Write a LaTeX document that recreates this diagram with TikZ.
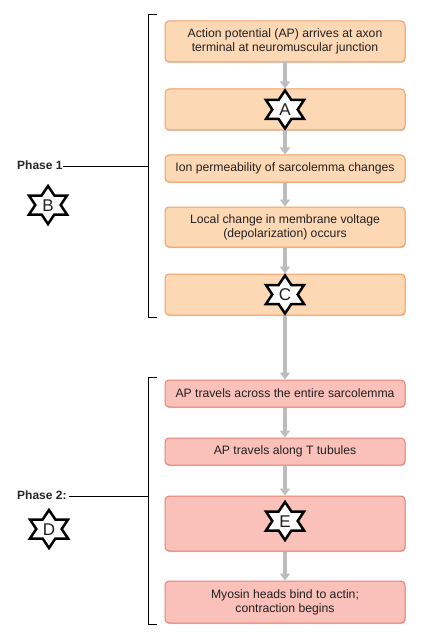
\documentclass[tikz,border=0pt]{standalone}
\usepackage{fontspec}
\setmainfont{Liberation Sans}
\usetikzlibrary{arrows.meta,shadows}
\definecolor{orfill}{HTML}{FDD8B5}
\definecolor{ordraw}{HTML}{F0A064}
\definecolor{pkfill}{HTML}{F9C1B9}
\definecolor{pkdraw}{HTML}{E58272}
\definecolor{arrgray}{HTML}{BDBDC0}
\definecolor{txt}{HTML}{231F20}
\tikzset{
 box/.style={rectangle, rounded corners=4pt, minimum width=240pt, line width=1pt, align=center, text=txt, font=\fontsize{12.2}{14}\selectfont, inner sep=0pt, drop shadow={shadow xshift=0.6pt, shadow yshift=-1.2pt, opacity=0.3, fill=black!60}},
 p1/.style={box, fill=orfill, draw=ordraw},
 p2/.style={box, fill=pkfill, draw=pkdraw},
 flow/.style={draw=arrgray, line width=3.5pt, -{Triangle[width=10pt,length=7pt]}},
 starline/.style={draw=black, fill=white, line width=2.5pt, line join=miter},
 starlbl/.style={font=\fontsize{17}{17}\selectfont, text=txt, inner sep=0pt},
 phase/.style={font=\bfseries\fontsize{12}{14}\selectfont, text=black!85, inner sep=0pt, anchor=west},
 brk/.style={draw=black, line width=0.8pt},
}
\newcommand{\hexstar}[2]{%
 \begin{scope}[shift={(#1,#2)}]
 \draw[starline] (0,-19) -- (6.35,-9.5) -- (19.05,-9.5) -- (12.7,0) -- (19.05,9.5) -- (6.35,9.5) -- (0,19) -- (-6.35,9.5) -- (-19.05,9.5) -- (-12.7,0) -- (-19.05,-9.5) -- (-6.35,-9.5) -- cycle;
 \end{scope}}
\begin{document}
\begin{tikzpicture}[x=1pt,y=-1pt]
\fill[white] (0,0) rectangle (426,639);
\useasboundingbox (0,0) rectangle (426,639);
% boxes
\node[p1, minimum height=41pt] (b1) at (285,41.5) {Action potential (AP) arrives at axon\\terminal at neuromuscular junction};
\node[p1, minimum height=41pt] (b2) at (285,109.5) {};
\node[p1, minimum height=27pt] (b3) at (285,168.5) {Ion permeability of sarcolemma changes};
\node[p1, minimum height=40pt] (b4) at (285,227) {Local change in membrane voltage\\(depolarization) occurs};
\node[p1, minimum height=41pt] (b5) at (285,294.5) {};
\node[p2, minimum height=27pt] (b6) at (285,393.5) {AP travels across the entire sarcolemma};
\node[p2, minimum height=27pt] (b7) at (285,451.5) {AP travels along T tubules};
\node[p2, minimum height=55pt] (b8) at (285,523.5) {};
\node[p2, minimum height=42pt] (b9) at (285,602) {Myosin heads bind to actin;\\contraction begins};
% arrows
\draw[flow] (b1.south) -- (b2.north);
\draw[flow] (b2.south) -- (b3.north);
\draw[flow] (b3.south) -- (b4.north);
\draw[flow] (b4.south) -- (b5.north);
\draw[flow] (b5.south) -- (b6.north);
\draw[flow] (b6.south) -- (b7.north);
\draw[flow] (b7.south) -- (b8.north);
\draw[flow] (b8.south) -- (b9.north);
% stars
\hexstar{285}{109.5}
\node[starlbl] (sA) at (285,110) {A};
\hexstar{285}{294.5}
\node[starlbl] (sC) at (285,295) {C};
\hexstar{285}{521}
\node[starlbl] (sE) at (285,521.5) {E};
\hexstar{48}{205}
\node[starlbl] (sB) at (48,205.5) {B};
\hexstar{49}{529}
\node[starlbl] (sD) at (49,529.5) {D};
% brackets
\coordinate (t1a) at (157,14); \coordinate (t1b) at (148,14);
\coordinate (t1c) at (148,317); \coordinate (t1d) at (157,317);
\draw[brk] (t1a) -- (t1b) -- (t1c) -- (t1d);
\coordinate (t2a) at (157,377); \coordinate (t2b) at (148,377);
\coordinate (t2c) at (148,624); \coordinate (t2d) at (157,624);
\draw[brk] (t2a) -- (t2b) -- (t2c) -- (t2d);
% phase labels
\node[phase] (ph1) at (17,165.5) {Phase 1};
\coordinate (ph1e) at (148,166);
\draw[brk] (ph1.east |- ph1e) -- (ph1e);
\node[phase] (ph2) at (17,495.5) {Phase 2:};
\coordinate (ph2e) at (148,496);
\draw[brk] ([xshift=2pt]ph2.east |- ph2e) -- (ph2e);
\end{tikzpicture}
\end{document}
